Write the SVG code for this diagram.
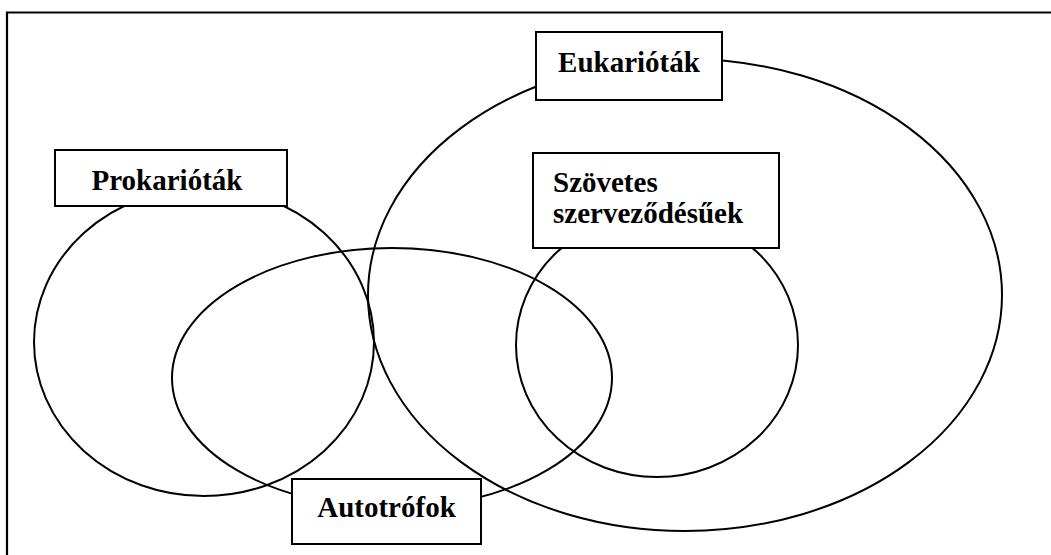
<svg xmlns="http://www.w3.org/2000/svg" width="1051" height="555" viewBox="0 0 1051 555">
<style>
.set{fill:none;stroke:#000;stroke-width:2}
.box{fill:#fff;stroke:#000;stroke-width:2}
.lbl{font-family:"Liberation Serif","Times New Roman",serif;font-weight:bold;font-size:29px;fill:#000}
</style>
<rect width="1051" height="555" fill="#fff"/>
<path d="M7,555 V12.5 H1051" fill="none" stroke="#000" stroke-width="2.2"/>
<g id="sets">
<ellipse id="set-prokariotak" class="set" cx="204" cy="342" rx="170" ry="154"/>
<ellipse id="set-eukariotak" class="set" cx="685" cy="295" rx="317" ry="236"/>
<ellipse id="set-szovetes" class="set" cx="657" cy="345" rx="141" ry="132"/>
<ellipse id="set-autotrofok" class="set" cx="392" cy="378" rx="220" ry="130"/>
</g>
<g id="eukariotak">
<rect class="box" x="536" y="32" width="186" height="68"/>
<text class="lbl" x="629" y="72" text-anchor="middle">Eukarióták</text>
</g>
<g id="prokariotak">
<rect class="box" x="55" y="150" width="232" height="56"/>
<text class="lbl" x="167" y="190" text-anchor="middle">Prokarióták</text>
</g>
<g id="szovetes">
<rect class="box" x="533" y="153" width="246" height="95"/>
<text class="lbl" x="553" y="192">Szövetes</text>
<text class="lbl" x="553" y="223">szerveződésűek</text>
</g>
<g id="autotrofok">
<rect class="box" x="292" y="479" width="189" height="65"/>
<text class="lbl" x="386.5" y="517" text-anchor="middle">Autotrófok</text>
</g>
</svg>
